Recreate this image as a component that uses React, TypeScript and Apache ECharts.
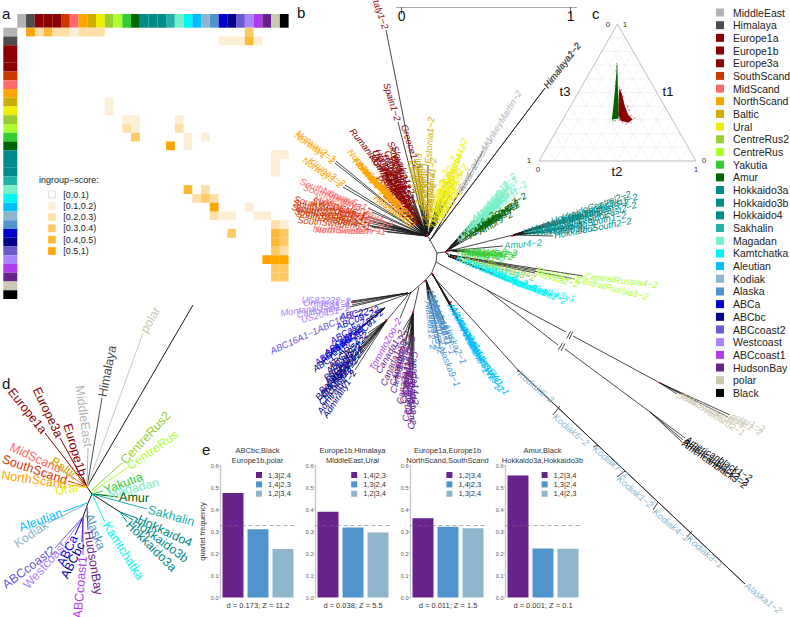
import React, { useEffect, useRef } from "react";
import * as echarts from "echarts";

const FONT = "Liberation Sans";
const popNames = ["MiddleEast","Himalaya","Europe1a","Europe1b","Europe3a","SouthScand","MidScand","NorthScand","Baltic","Ural","CentreRus2","CentreRus","Yakutia","Amur","Hokkaido3a","Hokkaido3b","Hokkaido4","Sakhalin","Magadan","Kamtchatka","Aleutian","Kodiak","Alaska","ABCa","ABCbc","ABCcoast2","Westcoast","ABCcoast1","HudsonBay","polar","Black"];
const popColors = ["#B3B3B3","#4D4D4D","#8B0000","#8B0000","#8B0000","#CD3700","#FF6A6A","#FFA500","#CDAD00","#EEEE00","#9ACD32","#ADFF2F","#32CD32","#006400","#008B8B","#008B8B","#008B8B","#20B2AA","#76EEC6","#00F5F5","#00BFFF","#8DB6CD","#4F94CD","#0000CD","#00008B","#6A5ACD","#AB82FF","#B23AEE","#68228B","#CDC8B1","#000000"];
const colorOf = (name: string) => popColors[popNames.indexOf(name)];

// Panel a: ingroup-score cells [column,row]
const scoreBins = ["[0,0.1)","[0.1,0.2)","[0.2,0.3)","[0.3,0.4)","[0.4,0.5)","[0.5,1)"];
const scoreColors = ["#FFFFFF","#FDEFD6","#FFDFA8","#FFC966","#FFB833","#FFA500"];
const bin01: number[][] = [];
const bin12 = [[6,0],[23,1],[24,1],[25,1],[27,1],[10,8],[10,9],[12,10],[13,10],[18,10],[13,11],[19,12],[21,12],[19,13],[29,14],[30,14],[29,15],[29,16],[26,20],[23,21],[24,21],[27,21],[28,21],[30,22]];
const bin23 = [[2,0],[4,0],[5,0],[7,0],[8,0],[9,0],[12,11],[18,11],[21,18],[20,19],[22,19],[22,21],[29,22],[30,25]];
const bin34 = [[26,0],[13,12],[21,19],[24,23],[30,23],[30,24],[29,25],[29,27],[30,27],[29,28],[30,28]];
const bin45 = [[3,0],[26,1],[19,18],[29,23],[29,24]];
const bin51 = [[1,0],[17,13],[22,20],[28,26],[29,26],[30,26]];
const scoreCells = [bin01, bin12, bin23, bin34, bin45, bin51];

// Panel b: unrooted tree, [label, tipX, tipY, labelEndX?, labelEndY?, parentX?, parentY?]
type Tip = [string, number, number, number?, number?, number?, number?];
const europeTips: Tip[] = [["Italy1−2",386,30,374,-4],["Spain1−2",398,122,387,86],["Greece1−2",418,170,408,138],["Rumania1−2",385,172,354,133],["Slovakia1−2",412,195],["Slovenia1−2",413,205],["Poland1−2",414,212],["Croatia1−2",410,203],["Bulgaria1−2",408,200],["Serbia1−2",409,210],["Germany1−2",406,205],["Austria1−2",411,215],["France1−2",415,218],["Hungary1−2",403,195],["Czech1−2",405,190],["Ukraine1−2",400,192],["Slovakia2−2",409,190],["Belarus1−2",412,200],["Romania2−2",402,200],["Poland2−2",407,212],["Macedonia1−2",418,222],["Albania1−2",416,216],["Bosnia1−2",420,226],["Bosnia2−2",417,226]];
const balticTips: Tip[] = [["Estonia1−2",428,165,431,124],["Finland1−2",424,210],["Latvia1−2",426,205],["Lithuania1−2",429,212],["Finland2−2",422,207],["Latvia2−2",426,215],["Finland3−2",423,200],["Karelia1−2",420,205],["Estonia2−2",428,220],["Karelia2−2",428,228],["Finland4−2",425,222]];
const uralTips: Tip[] = [["UralRussia1−2",443,197],["Ural2−2",440,207],["Komi1−2",437,215],["Yamal1−2",433,220],["Ural3−2",431,223],["UralMts4−2",446,190],["Ural5−2",435,212],["Ural6−2",439,218],["Komi2−2",442,205],["Ural7−2",446,200],["Yamal2−2",441,197],["Ural8−2",450,195],["Ural9−2",437,203],["Ural10−2",432,228],["Ural11−2",435,225],["Ural12−2",438,222]];
const middleEastTips: Tip[] = [["SeeGudauri−1",460,191,483,151],["MonkeyMartin−2",483,151,510,107,461,191],["Iran1−2",459,193,480,158]];
const himalayaTips: Tip[] = [["Himalaya1−2",545,88,579,44],["Himalaya2−2",545,88,578,45]];
const northScandTips: Tip[] = [["Norway2−1",336,161,297,132],["Norway1−2",335,163,300,138],["Kiruna3−2",345,185,303,155],["Norway3−2",343,187,304,160],["Norway6−2",388,195],["Norway7−1",393,200],["Norway8−2",398,206],["Norway9−1",404,212],["Russia1−2",409,217],["Norway10−2",385,190],["Norway11−1",391,198],["Norway12−2",396,203],["Norway13−1",401,209],["Russia2−2",407,214],["Russia3−2",412,220],["Russia4−2",415,227],["Russia5−2",411,224]];
const midScandTips: Tip[] = [["SouthNorway5−1",368,208,297,180],["SouthNorway4−2",393,226,320,188],["NorthSwedenY−1",387,232,313,229],["NorthSweden−1",383,231,315,230],["MidSweden1−2",375,222,320,200],["SouthNorway3−1",372,212,312,190],["MidSweden2−2",385,226,335,205]];
const southScandTips: Tip[] = [["SouthSweden1−1",366,219,298,200],["SouthSweden2−1",365,222,297,208],["SouthSweden3−1",368,225,300,212],["SouthSweden4−2",370,226,310,216],["SWEDEN5−1",368,216,320,203],["SouthSweden6−1",372,227,318,222],["SouthSweden7−1",367,217,300,204],["SouthSweden8−1",369,221,303,209]];
const magadanTips: Tip[] = [["Magadan1−2",457,242],["Magadan2−2",460,238],["Magadan3−2",463,235],["Magadan4−2",468,230],["Magadan5−2",472,227],["Magadan6−2",478,218],["Magadan7−2",466,232],["Magadan8−2",475,224],["Magadan9−2",470,225],["Magadan10−2",474,220],["Magadan11−2",480,222]];
const amurTips: Tip[] = [["Amur1−2",483,227],["Amur2−2",480,228],["Amur3−1",473,233],["AmurRiver5−2",468,237],["Amur6−2",463,238],["AmurRiver7−2",476,230],["Amur8−2",486,224],["Amur9−2",478,233]];
const yakutiaTips: Tip[] = [["Yakutia1−2",455,251],["Yakutia5−2",462,251],["Yakutia9−2",466,252],["Sakha2−2",474,252],["Yakutia3−2",458,252],["Yakutia6−2",470,251]];
const sakhalinTips: Tip[] = [["Amur4−2",503,246]];
const hokkaidoTips: Tip[] = [["HokkaidoEast1−2",567,220,633,198],["HokkaidoEast2−2",566,228,632,206],["HokkaidoSouth2−2",553,236,620,223],["Hokkaido3a−1",522,233],["Hokkaido3a−2",530,230],["Hokkaido3b−1",545,226],["Hokkaido3b−2",535,233],["HokkaidoCentral2−2",550,222],["HokkaidoEast3−2",558,224,625,203],["HokkaidoEast4−2",540,232,605,212],["Hokkaido4−1",528,233],["Hokkaido4−2",560,220,622,200],["HokkaidoSouth1−2",548,232,612,218]];
const centreRusTips: Tip[] = [["CentralRussia4−2",583,276,657,285],["CentralRussia3−2",575,279,647,297],["Russia1−2",536,270,575,279],["Russia2−2",535,273,572,283]];
const centreRus2Tips: Tip[] = [["CentralRussia8−2",462,260,530,277],["CentralRussia7−2",458,258,525,272]];
const kamtchatkaTips: Tip[] = [["Kamtchatka3−1",511,282,552,293],["Kamtchatka1−2",455,258],["Kamtchatka2−2",465,262],["Kamtchatka4−2",475,266],["Kamtchatka5−1",485,270],["Kamtchatka6−1",495,274],["Kamtchatka7−2",505,278]];
const aleutianTips: Tip[] = [["AleutianSW1−1",470,340,498,381],["AleutianSW2−1",465,333,492,378],["Aleutian3−1",452,306],["Aleutian4−2",458,318],["Aleutian5−1",462,328],["AleutianSW3−1",467,336,494,379],["Aleutian6−1",455,312],["Aleutian7−2",449,303]];
const alaskaTips: Tip[] = [["Alaska2−1",445,323,463,362],["Alaska9−1",440,345,457,385],["Alaska3−1",429,288],["Alaska4−2",431,293],["Alaska5−2",433,298],["Alaska7−2",430,305],["Alaska8−2",432,310],["Alaska6−1",434,303],["Alaska10−2",430,296],["Alaska11−1",436,308],["Alaska12−2",428,300]];
const hudsonTips: Tip[] = [["Canada1−2",403,330],["Canada2−2",405,345],["Canada3−2",407,355],["Canada4−2",409,372],["Canada5−2",412,380],["Canada6−2",410,345],["Canada7−2",412,335],["Canada8−2",408,330],["Canada9−2",406,338],["Canada10−2",411,360],["Canada11−2",409,350],["Canada12−2",413,370],["Canada13−2",404,335],["Canada14−2",414,350]];
const torontoTips: Tip[] = [["TorontoZoo−2",400,318,373,367]];
const abcbcTips: Tip[] = [["ABC1−ABC2−2",368,333],["ABCbc3−2",362,342],["ABCbc4−2",358,350],["Baranof1−2",354,356],["Baranof2−2",350,362],["Admiralty1−2",355,370],["Chichagof1−2",360,352],["Admiralty2−2",352,368],["ABCbc5−2",365,338],["ABCbc6−2",363,347],["Chichagof2−2",357,358],["Baranof3−2",361,345]];
const abcaTips: Tip[] = [["ABC01−2",383,310],["ABCa1−2",372,319],["ABCa2−2",362,327],["ABCa3−2",353,335],["ABCa4−2",348,338],["ABC09−2",375,312],["ABCa5−2",366,320],["ABCa6−2",358,329],["ABC22−2",380,309]];
const abcCoast2Tips: Tip[] = [["ABC16A1−1ABC16−2",355,313,281,347]];
const westcoastTips: Tip[] = [["US83232−2",352,301,297,300],["MontanaUSA1−1",352,303,290,312],["California1−1",352,305,302,314],["US20451−1",350,307,298,321],["Oregon1−1",351,302,305,303]];
const kodiakTips: Tip[] = [["Kodiak5−2",518,372,551,400,518,370],["Kodiak6−2",553,415,586,443,560,406],["Kodiak7−1",593,447,626,475,598,445],["Kodiak1−2",617,477,650,505,625,471],["Kodiak4−1",653,510,686,538,658,502],["Kodiak3−1",687,537,720,565,692,531],["Alaska1−2",745,584,779,611,518,370]];
const polarTips: Tip[] = [["polarSvalbard1−1",677,394,745,427],["polarSvalbard2−1",681,394,742,433],["polar1−2",730,415,765,430],["polar2−2",728,417,760,432]];
const blackTips: Tip[] = [["Americanblack1−2",685,438,758,483],["Americanblack2−2",683,440,748,484],["Americanblack3−2",682,442,745,486]];

const treeClades: [string, number, number, Tip[]][] = [
  ["Europe1a",427,236,europeTips],["Baltic",427,236,balticTips],["Ural",428,236,uralTips],["MiddleEast",431,239,middleEastTips],["Himalaya",431,239,himalayaTips],
  ["NorthScand",427,236,northScandTips],["MidScand",427,236,midScandTips],["SouthScand",427,236,southScandTips],
  ["Magadan",448,249,magadanTips],["Amur",445,252,amurTips],["Yakutia",447,250,yakutiaTips],["Sakhalin",447,251,sakhalinTips],["Hokkaido3a",513,235,hokkaidoTips],
  ["CentreRus",450,255,centreRusTips],["CentreRus2",450,255,centreRus2Tips],["Kamtchatka",448,256,kamtchatkaTips],["Aleutian",432,273,aleutianTips],["Alaska",426,280,alaskaTips],
  ["HudsonBay",413,313,hudsonTips],["ABCcoast1",411,292,torontoTips],["ABCbc",387,320,abcbcTips],["ABCa",385,308,abcaTips],["ABCcoast2",410,293,abcCoast2Tips],["Westcoast",408,293,westcoastTips],
  ["Kodiak",518,370,kodiakTips],["polar",660,383,polarTips],["Black",650,412,blackTips],
];
const treeBackbone = [[429,238,437,253],[437,253,436,262],[436,262,431.7,273],[431.7,273,425.7,280],[425.7,280,411.7,292],[411.7,292,405,295],[437,253,445,252],[445,252,513,235],[436,262,487,290],[487,290,566,332],[573,336,660,383],[487,290,558,345],[565,349,650,412],[432,275,518,370],[518,370,745,584],[419,287,413,313],[408,295,387,320],[429,238,427,236],[431,239,429,241],[445,252,450,255],[445,252,448,249],[449,256,445,252],
  [566.7,338.3,570.7,331],[569.3,339,572.7,331.7],[558.3,350,562.7,342.7],[561,351,565,343.3]];
const treeRedNodes = [[427,235],[446,252],[449,250],[512,236],[413,312],[386,320],[372,309],[660,383],[425,281],[352,302],[432,274],[451,302],[455,257]];

// Panel d: population tree
const popTreeTips: Tip[] = [["Himalaya",102,398,112,348,87,487],["MiddleEast",88,448,80,390,87,487],["Europe1b",83,477,68,427,87,487],["Europe3a",60,438,38,392,87,487],["Europe1a",45,433,13,393,87,487],["MidScand",62,470,18,450,87,487],["SouthScand",68,481,6,460,87,487],["NorthScand",68,485,8,476,87,487],["Baltic",78,478,52,460,87,487],["Ural",79,487,57,491,87,487],["polar",143,333,158,307,87,487],["CentreRus2",122,463,167,415,92,490],["CentreRus",127,468,175,435,92,492],["Yakutia",103,491,138,478,92,494],["Magadan",107,495,155,483,92,494],["Amur",118,497,147,498,92,494],["Sakhalin",147,509,193,522,92,494],["Hokkaido4",137,518,190,543,120,512],["Hokkaido3b",133,520,190,562,120,512],["Hokkaido3a",127,522,173,568,120,512],["Kamtchatka",105,522,140,577,92,494],["Aleutian",63,512,22,527,87,503],["Kodiak",48,523,15,545,85,505],["ABCcoast2",55,548,8,583,83,517],["Westcoast",65,543,30,582,83,517],["ABCa",75,535,62,562,83,517],["ABCbc",82,542,67,572,83,517],["ABCcoast1",83,555,78,612,83,517],["HudsonBay",88,530,98,590,87,507],["Alaska",88,513,100,545,87,507]];
const popTreeBackbone = [[87,487,92,494],[92,494,88,503],[88,503,83,517],[87,487,193,305],[92,494,120,512]];

// Panel c: ternary plot, points as [t1,t2]
const ternaryTicks = [0.1,0.2,0.3,0.4,0.5,0.6,0.7,0.8,0.9];
const greenCloud = [[0.702,0.144],[0.702,0.148],[0.592,0.205],[0.445,0.283],[0.311,0.352],[0.303,0.313],[0.396,0.275],[0.518,0.225],[0.641,0.172]];
const redCloud = [[0.531,0.246],[0.494,0.280],[0.396,0.350],[0.335,0.402],[0.303,0.445],[0.279,0.430],[0.293,0.374],[0.335,0.338],[0.445,0.285]];
const greenStray = [[0.71,0.14],[0.69,0.15],[0.66,0.16],[0.62,0.19],[0.58,0.2],[0.55,0.21],[0.5,0.245],[0.46,0.255],[0.42,0.27],[0.38,0.285],[0.34,0.3],[0.3,0.318],[0.295,0.34],[0.31,0.36],[0.29,0.33],[0.36,0.33],[0.43,0.3]];
const redStray = [[0.54,0.24],[0.52,0.265],[0.47,0.3],[0.43,0.32],[0.4,0.365],[0.37,0.39],[0.33,0.42],[0.31,0.455],[0.28,0.445],[0.27,0.42],[0.285,0.39],[0.3,0.36],[0.34,0.33],[0.38,0.31]];

// Panel e
const quartetTitles = ["ABCbc,Black\nEurope1b,polar","Europe1b,Himalaya\nMiddleEast,Ural","Europe1a,Europe1b\nNorthScand,SouthScand","Amur,Black\nHokkaido3a,Hokkaido3b"];
const quartetStats = ["d = 0.173; Z = 11.2","d = 0.038; Z = 5.5","d = 0.011; Z = 1.5","d = 0.001; Z = 0.1"];
const quartetNames = [["1,3|2,4","1,4|2,3","1,2|3,4"],["1,4|2,3","1,3|2,4","1,2|3,4"],["1,2|3,4","1,4|2,3","1,3|2,4"],["1,2|3,4","1,3|2,4","1,4|2,3"]];
const quartetValues = [[0.475,0.31,0.22],[0.39,0.318,0.295],[0.36,0.322,0.315],[0.555,0.223,0.222]];
const quartetColors = ["#68228B","#4F94CD","#8DB6CD"];
const scaleTicks = [0,1];

function ternXY(t1: number, t2: number) { return [t2 + t1 / 2, t1 * Math.sqrt(3) / 2]; }

function cellSeries(name: string, color: string, data: number[][], axisIndex: number) {
  return {
    type: "custom", name, xAxisIndex: axisIndex, yAxisIndex: axisIndex, data, itemStyle: { color }, clip: false,
    renderItem: (_p: any, api: any) => {
      const c = api.coord([api.value(0), api.value(1)]);
      const s = api.size([1, 1]);
      return { type: "rect", shape: { x: c[0] - s[0] / 2, y: c[1] - s[1] / 2, width: s[0], height: s[1] }, style: { fill: color } };
    },
  };
}

function edgeSeries(edges: number[][], colors: string[] | null, lineWidth: number, axisIndex = 0) {
  return {
    type: "custom", xAxisIndex: axisIndex, yAxisIndex: axisIndex, clip: false, silent: true, data: edges, encode: { x: 0, y: 1 },
    renderItem: (p: any, api: any) => {
      const a = api.coord([api.value(0), api.value(1)]);
      const b = api.coord([api.value(2), api.value(3)]);
      return { type: "line", shape: { x1: a[0], y1: a[1], x2: b[0], y2: b[1] }, style: { stroke: colors ? colors[p.dataIndex] : "#1a1a1a", lineWidth } };
    },
  };
}

function labelSeries(texts: string[], colors: string[], points: number[][], fontSize: number, italic: boolean) {
  return {
    type: "custom", xAxisIndex: 0, yAxisIndex: 0, clip: false, silent: true, data: points, encode: { x: 0, y: 1 },
    renderItem: (p: any, api: any) => {
      const a = api.coord([api.value(0), api.value(1)]);
      const b = api.coord([api.value(2), api.value(3)]);
      const th = Math.atan2(b[1] - a[1], b[0] - a[0]);
      const right = Math.cos(th) >= 0;
      return {
        type: "text", x: a[0] + Math.cos(th) * 1.2, y: a[1] + Math.sin(th) * 1.2,
        rotation: right ? -th : -(th + Math.PI),
        style: { text: texts[p.dataIndex], fill: colors[p.dataIndex], fontSize, fontFamily: FONT, fontStyle: italic ? "italic" : "normal", align: right ? "left" : "right", verticalAlign: "middle" },
      };
    },
  };
}

function buildTree() {
  const edges: number[][] = []; const texts: string[] = []; const colors: string[] = []; const pts: number[][] = [];
  treeClades.forEach(([pop, nx, ny, tips]) => {
    tips.forEach((t) => {
      const px = t[5] ?? nx, py = t[6] ?? ny;
      edges.push([px, py, t[1], t[2]]);
      texts.push(t[0]); colors.push(colorOf(pop));
      const ex = t[3] ?? t[1] + (t[1] - px), ey = t[4] ?? t[2] + (t[2] - py);
      pts.push([t[1], t[2], ex, ey]);
    });
  });
  return { edges, texts, colors, pts };
}

function buildOption() {
  const tree = buildTree();
  const axesHidden = { show: false };
  const grids: any[] = [
    { left: 0, top: 0, width: 790, height: 617 },
    { left: 17.3, top: 27.7, width: 271.3, height: 271.3 },
    { left: 17.3, top: 14, width: 271.3, height: 13.7 },
    { left: 3.3, top: 27.7, width: 14, height: 271.3 },
    { left: 539, top: 24, width: 157, height: 137 },
  ];
  const idx = popNames.map((_, i) => String(i));
  const xAxes: any[] = [
    { type: "value", min: 0, max: 790, ...axesHidden, gridIndex: 0 },
    { type: "category", data: idx, ...axesHidden, gridIndex: 1 },
    { type: "category", data: idx, ...axesHidden, gridIndex: 2 },
    { type: "category", data: ["0"], ...axesHidden, gridIndex: 3 },
    { type: "value", min: 0, max: 1, ...axesHidden, gridIndex: 4 },
  ];
  const yAxes: any[] = [
    { type: "value", min: 0, max: 617, inverse: true, ...axesHidden, gridIndex: 0 },
    { type: "category", data: idx, inverse: true, ...axesHidden, gridIndex: 1 },
    { type: "category", data: ["0"], ...axesHidden, gridIndex: 2 },
    { type: "category", data: idx, inverse: true, ...axesHidden, gridIndex: 3 },
    { type: "value", min: 0, max: Math.sqrt(3) / 2, ...axesHidden, gridIndex: 4 },
  ];
  const series: any[] = [];
  popNames.forEach((n, i) => {
    series.push(cellSeries(n, popColors[i], [[i, 0]], 2));
    series.push(cellSeries(n, popColors[i], [[0, i]], 3));
  });
  scoreBins.forEach((b, i) => series.push(cellSeries(b, scoreColors[i], scoreCells[i], 1)));

  // tree b
  series.push(edgeSeries(tree.edges, null, 0.8));
  series.push(edgeSeries(treeBackbone, null, 0.8));
  series.push(labelSeries(tree.texts, tree.colors, tree.pts, 9.3, true));
  series.push({ type: "scatter", xAxisIndex: 0, yAxisIndex: 0, symbolSize: 2.2, silent: true, itemStyle: { color: "#E8141C" }, data: treeRedNodes });

  // tree d
  series.push(edgeSeries(popTreeBackbone, null, 1));
  series.push(edgeSeries(popTreeTips.map((t) => [t[5] as number, t[6] as number, t[1], t[2]]), popTreeTips.map((t) => colorOf(t[0])), 1));
  series.push(labelSeries(popTreeTips.map((t) => t[0]), popTreeTips.map((t) => colorOf(t[0])), popTreeTips.map((t) => [t[1], t[2], t[3] as number, t[4] as number]), 12.5, false));

  // ternary c
  const gridLines: number[][] = [];
  ternaryTicks.forEach((k) => {
    gridLines.push([...ternXY(k, 0), ...ternXY(k, 1 - k)]);
    gridLines.push([...ternXY(0, k), ...ternXY(1 - k, k)]);
    gridLines.push([...ternXY(0, 1 - k), ...ternXY(1 - k, 0)]);
  });
  series.push(edgeSeries(gridLines, gridLines.map(() => "#E9E9E9"), 0.6, 4));
  const corners = [ternXY(1, 0), ternXY(0, 0), ternXY(0, 1)];
  series.push(edgeSeries([[...corners[0], ...corners[1]], [...corners[1], ...corners[2]], [...corners[2], ...corners[0]]], ["#B5B5B5", "#B5B5B5", "#B5B5B5"], 0.9, 4));
  const cloud = (pts: number[][], color: string) => ({
    type: "custom", xAxisIndex: 4, yAxisIndex: 4, silent: true, clip: false, data: [pts.map((p) => ternXY(p[0], p[1])).flat()],
    renderItem: (_p: any, api: any) => {
      const flat = pts.map((p) => ternXY(p[0], p[1]));
      return { type: "polygon", shape: { points: flat.map((q) => api.coord(q)) }, style: { fill: color } };
    },
  });
  series.push(cloud(greenCloud, "#006400"));
  series.push(cloud(redCloud, "#8B0000"));
  series.push({ type: "scatter", xAxisIndex: 4, yAxisIndex: 4, symbolSize: 1.2, silent: true, itemStyle: { color: "#228B22" }, data: greenStray.map((p) => ternXY(p[0], p[1])) });
  series.push({ type: "scatter", xAxisIndex: 4, yAxisIndex: 4, symbolSize: 1.2, silent: true, itemStyle: { color: "#B02030" }, data: redStray.map((p) => ternXY(p[0], p[1])) });

  const titles: any[] = [];
  const legends: any[] = [
    {
      left: 716, top: 7, orient: "vertical", icon: "rect", itemWidth: 8, itemHeight: 8, itemGap: 1.68, selectedMode: false, padding: 0,
      textStyle: { fontSize: 10.5, color: "#222", fontFamily: FONT, padding: [0, 0, 0, 4] },
      data: popNames.filter((n, i) => popNames.indexOf(n) === i).map((name, i) => ({ name, itemStyle: { color: popColors[i] } })),
    },
    {
      left: 48, top: 190, orient: "vertical", icon: "rect", itemWidth: 7, itemHeight: 7, itemGap: 2.3, selectedMode: false, padding: 0,
      textStyle: { fontSize: 9, color: "#222", fontFamily: FONT, padding: [0, 0, 0, 3] },
      data: scoreBins.map((name, i) => ({ name, itemStyle: { color: scoreColors[i], borderColor: i === 0 ? "#CFCFCF" : scoreColors[i], borderWidth: 0.7 } })),
    },
  ];

  quartetValues.forEach((vals, c) => {
    const left = 220.5 + c * 95;
    grids.push({ left, top: 465.5, width: 75, height: 132 });
    const g = grids.length - 1;
    xAxes.push({
      gridIndex: g, type: "category", data: ["a", "b", "c"],
      axisLine: { show: false }, axisTick: { show: false }, axisLabel: { show: false },
      name: quartetStats[c], nameLocation: "middle", nameGap: 4, nameTextStyle: { fontSize: 7.5, color: "#333", fontFamily: FONT },
    });
    yAxes.push({
      gridIndex: g, type: "value", min: 0, max: 0.6, interval: 0.1,
      splitLine: { show: false },
      axisLine: { show: true, lineStyle: { color: "#C8C8C8", width: 1.4 } },
      axisTick: { show: true, length: 2, lineStyle: { color: "#C8C8C8" } },
      axisLabel: { fontSize: 5.5, color: "#555", margin: 2, fontFamily: FONT, formatter: (v: number) => v.toFixed(1) },
      ...(c === 0 ? { name: "quartet frequency", nameLocation: "middle", nameGap: 12, nameTextStyle: { fontSize: 7.5, color: "#333", fontFamily: FONT } } : {}),
    });
    vals.forEach((v, k) => {
      series.push({
        type: "bar", name: quartetNames[c][k], xAxisIndex: g, yAxisIndex: g, stack: "q" + c, barWidth: 21,
        itemStyle: { color: quartetColors[k] },
        data: [0, 1, 2].map((j) => (j === k ? v : null)),
        ...(k === 0 ? { markLine: { silent: true, symbol: "none", label: { show: false }, animation: false, lineStyle: { color: "rgba(110,110,110,0.65)", type: [4, 3], width: 0.9 }, data: [{ yAxis: 1 / 3 }] } } : {}),
      });
    });
    titles.push({ text: quartetTitles[c], left: 257.5 + c * 95, top: 445, textAlign: "center", padding: 0, textStyle: { fontSize: 7.5, fontWeight: "normal", color: "#333", lineHeight: 10, fontFamily: FONT } });
    legends.push({
      left: 256 + c * 95.2, top: 471, orient: "vertical", icon: "rect", itemWidth: 6, itemHeight: 6, itemGap: 1.4, selectedMode: false, padding: 0,
      textStyle: { fontSize: 7.5, color: "#333", fontFamily: FONT, padding: [0, 0, 0, 1] },
      data: quartetNames[c].map((name, k) => ({ name, itemStyle: { color: quartetColors[k] } })),
    });
  });

  // scale bar of panel b
  grids.push({ left: 396, top: 6, width: 180.7, height: 1 });
  const sg = grids.length - 1;
  xAxes.push({
    gridIndex: sg, type: "value", min: -0.0337, max: 1.0355,
    axisLine: { show: true, lineStyle: { color: "#A8A8A8", width: 1 } },
    axisTick: { show: true, length: 7, lineStyle: { color: "#444", width: 0.8 }, customValues: scaleTicks },
    axisLabel: { show: true, fontSize: 14, margin: 2, color: "#111", fontFamily: FONT, customValues: scaleTicks },
    splitLine: { show: false },
  });
  yAxes.push({ gridIndex: sg, type: "value", min: 0, max: 1, show: false });
  series.push({ type: "line", xAxisIndex: sg, yAxisIndex: sg, data: [], silent: true });

  const txt = (text: string, x: number, y: number, fontSize: number, align = "left", fill = "#111") => ({
    type: "text", x, y, silent: true, style: { text, fontSize, fontFamily: FONT, fill, align, verticalAlign: "middle" },
  });
  const graphic: any[] = [
    txt("a", 2, 13, 15), txt("b", 297, 12, 15), txt("c", 592, 13, 15), txt("d", 2, 383, 15), txt("e", 202, 449, 15),
    txt("ingroup−score:", 39, 180, 9, "left", "#222"),
    txt("t1", 668, 91, 13, "center"), txt("t2", 617, 171, 13, "center"), txt("t3", 565, 91, 13, "center"),
    txt("0", 608, 24, 8, "center", "#333"), txt("1", 625, 24, 8, "center", "#333"),
    txt("1", 529, 160, 8, "center", "#333"), txt("0", 538, 169, 8, "center", "#333"),
    txt("0", 704, 160, 8, "center", "#333"), txt("1", 696, 169, 8, "center", "#333"),
    { type: "rect", silent: true, shape: { x: 220, y: 23.7, width: 11.5, height: 1.4 }, style: { fill: "#000" } },
  ];

  return { animation: false, backgroundColor: "#fff", textStyle: { fontFamily: FONT }, title: titles, legend: legends, grid: grids, xAxis: xAxes, yAxis: yAxes, series, graphic };
}

export default function App() {
  const ref = useRef<HTMLDivElement>(null);
  useEffect(() => {
    document.body.style.margin = "0";
    const chart = echarts.init(ref.current as HTMLDivElement, undefined, { renderer: "svg" });
    chart.setOption(buildOption() as any);
    return () => chart.dispose();
  }, []);
  return <div ref={ref} style={{ width: 790, height: 617 }} />;
}
